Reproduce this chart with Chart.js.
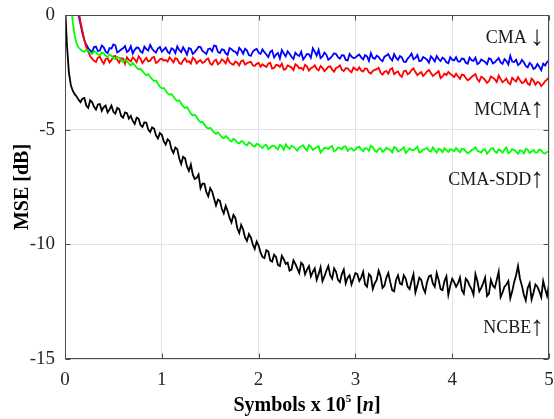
<!DOCTYPE html>
<html>
<head>
<meta charset="utf-8">
<script src="https://cdn.jsdelivr.net/npm/chart.js@4.4.1/dist/chart.umd.min.js"></script>
<style>
  html, body { margin: 0; padding: 0; background: #fff; }
</style>
</head>
<body>
<canvas id="mseChart" width="554" height="419"></canvas>
<script>
// symbol axis (x 10^5): "even" samples at 0, 0.04, ... 5.00 and "odd" samples at 0.02, 0.06, ... 4.98
const symbols = Array.from({ length: 251 }, (_, i) => +(i * 0.02).toFixed(2));

const xTicks = [0, 1, 2, 3, 4, 5];
const yTicks = [0, -5, -10, -15];

// MSE in dB
const cmaEven = [
  4, 3, 1.8, 0.5, -0.4, -1.1, -1.45,
  -1.62, -1.38, -1.55, -1.41, -1.66, -1.47, -1.32, -1.58, -1.45, -1.61, -1.36, -1.52, -1.43, -1.65, -1.49, -1.30, -1.57, -1.46, -1.60,
  -1.42, -1.68, -1.50, -1.37, -1.62, -1.55, -1.44, -1.70, -1.51, -1.40, -1.63, -1.48, -1.58, -1.35, -1.66, -1.52, -1.74, -1.49, -1.60, -1.43, -1.69, -1.55, -1.78, -1.52, -1.64,
  -1.50, -1.72, -1.61, -1.85, -1.66, -1.53, -1.80, -1.69, -1.92, -1.74, -1.60, -1.83, -1.71, -1.45, -1.77, -1.88, -1.64, -1.95, -1.79, -1.70, -1.90, -1.76, -1.98, -1.81, -1.86,
  -1.72, -1.94, -1.80, -1.66, -1.91, -1.83, -2.02, -1.77, -1.89, -1.70, -1.96, -1.85, -2.05, -1.81, -1.93, -1.74, -1.99, -1.88, -2.08, -1.90, -1.79, -2.01, -1.92, -2.10, -1.95,
  -1.84, -2.03, -1.91, -2.12, -1.97, -1.86, -2.09, -1.99, -2.15, -1.93, -2.06, -1.88, -2.13, -2.01, -1.78, -2.05, -2.18, -1.96, -2.22, -2.09, -2.35, -2.14, -2.41, -2.20, -1.98
];
const cmaOdd = [
  3.5, 2.4, 1.1, 0.0, -0.8, -1.3, -1.55,
  -1.40, -1.57, -1.33, -1.60, -1.44, -1.28, -1.63, -1.50, -1.35, -1.54, -1.68, -1.42, -1.59, -1.38, -1.55, -1.47, -1.64, -1.39, -1.51,
  -1.60, -1.45, -1.66, -1.53, -1.41, -1.72, -1.48, -1.62, -1.38, -1.57, -1.70, -1.46, -1.33, -1.61, -1.50, -1.67, -1.44, -1.58, -1.72, -1.53, -1.47, -1.75, -1.60, -1.48, -1.70,
  -1.62, -1.84, -1.55, -1.73, -1.90, -1.68, -1.58, -1.82, -1.65, -1.79, -1.94, -1.70, -1.86, -1.60, -1.52, -1.81, -1.73, -1.89, -1.67, -1.84, -1.75, -1.96, -1.70, -1.88, -1.78,
  -1.85, -1.75, -2.00, -1.87, -1.78, -1.95, -1.82, -1.71, -1.98, -1.86, -1.79, -2.04, -1.90, -1.68, -1.87, -2.01, -1.83, -1.95, -1.80, -2.03, -1.92, -1.86, -2.06, -1.84, -1.98,
  -2.02, -1.90, -2.08, -1.85, -2.00, -2.14, -1.94, -2.05, -1.89, -2.11, -1.97, -2.07, -1.92, -2.16, -2.03, -1.95, -2.12, -2.06, -2.28, -2.17, -2.30, -2.26, -2.12, -2.05
];
const mcmaEven = [
  4, 3.5, 2.2, 0.8, -0.3, -1.1, -1.6, -1.9,
  -2.05, -1.82, -2.12, -1.88, -1.97, -1.78, -2.08, -1.90, -1.84, -2.02, -1.93, -1.80, -2.10, -1.87, -1.99, -1.83, -2.04, -1.91,
  -1.96, -1.85, -2.07, -1.92, -2.14, -1.89, -2.01, -1.86, -2.11, -1.97, -2.05, -1.90, -2.17, -1.95, -2.08, -2.00, -1.88, -2.13, -2.03, -2.20, -1.98, -2.10, -2.04, -2.22, -2.09,
  -2.15, -2.27, -2.08, -2.31, -2.19, -2.12, -2.36, -2.24, -2.40, -2.21, -2.30, -2.17, -2.42, -2.28, -2.35, -2.22, -2.45, -2.26, -2.38, -2.31, -2.20, -2.44, -2.33, -2.50, -2.36,
  -2.28, -2.47, -2.35, -2.55, -2.39, -2.30, -2.60, -2.44, -2.37, -2.58, -2.46, -2.70, -2.42, -2.53, -2.33, -2.62, -2.49, -2.57, -2.40, -2.66, -2.52, -2.75, -2.55, -2.48, -2.63,
  -2.56, -2.78, -2.62, -2.85, -2.70, -2.58, -2.90, -2.74, -2.96, -2.68, -2.81, -2.64, -2.93, -2.77, -3.02, -2.83, -2.71, -2.97, -2.80, -3.05, -2.86, -2.92, -3.10, -2.88, -2.70
];
const mcmaOdd = [
  4, 2.9, 1.5, 0.2, -0.7, -1.4, -1.8, -2.0,
  -1.86, -2.00, -1.92, -2.07, -1.81, -1.95, -1.89, -2.13, -1.96, -1.85, -2.06, -1.90, -1.97, -2.02, -1.86, -2.09, -1.93, -1.99,
  -2.03, -1.94, -1.88, -2.10, -1.99, -2.04, -2.12, -1.93, -2.02, -2.09, -1.94, -2.12, -2.01, -2.15, -1.93, -2.11, -2.06, -2.17, -2.08, -2.01, -2.16, -2.07, -2.19, -2.13, -2.25,
  -2.21, -2.12, -2.34, -2.18, -2.26, -2.38, -2.20, -2.29, -2.15, -2.33, -2.39, -2.25, -2.32, -2.19, -2.41, -2.30, -2.36, -2.24, -2.47, -2.27, -2.39, -2.32, -2.43, -2.29, -2.40,
  -2.42, -2.33, -2.50, -2.44, -2.36, -2.52, -2.47, -2.56, -2.32, -2.51, -2.62, -2.45, -2.58, -2.40, -2.49, -2.55, -2.66, -2.46, -2.53, -2.59, -2.45, -2.68, -2.62, -2.57, -2.71,
  -2.68, -2.60, -2.75, -2.79, -2.64, -2.80, -2.69, -2.84, -2.88, -2.73, -2.92, -2.79, -2.86, -2.95, -2.74, -2.90, -2.84, -2.93, -2.99, -2.78, -3.04, -2.95, -3.01, -2.82
];
const sddEven = [
  4, 1.5, -0.3, -1.25, -1.5, -1.6, -1.55, -1.7, -1.62, -1.75,
  -1.68, -1.82, -1.77, -1.92, -1.86, -2.05, -2.0, -2.2, -2.18, -2.38,
  -2.45, -2.62, -2.70, -2.88, -3.0, -3.2, -3.3, -3.48, -3.55, -3.75,
  -3.85, -4.05, -4.15, -4.38, -4.45, -4.68, -4.78, -4.95, -5.02, -5.18,
  -5.22, -5.38, -5.35, -5.52, -5.46, -5.6, -5.52, -5.68, -5.6, -5.74, -5.65,
  -5.80, -5.66, -5.78, -5.70, -5.86, -5.72, -5.64, -5.84, -5.75, -5.92, -5.73, -5.82, -5.68, -5.88, -5.77, -6.00, -5.79, -5.85, -5.71, -5.90, -5.80, -5.74, -5.93, -5.81, -5.87,
  -5.75, -5.94, -5.83, -5.70, -5.91, -5.84, -5.97, -5.79, -5.88, -5.76, -5.95, -5.86, -6.02, -5.82, -5.90, -5.74, -5.96, -5.85, -5.92, -5.78, -6.00, -5.87, -5.81, -5.97, -5.89,
  -5.80, -5.98, -5.85, -6.03, -5.90, -5.77, -5.96, -5.88, -6.05, -5.83, -5.94, -5.86, -6.01, -5.78, -5.97, -5.89, -6.06, -5.92, -5.84, -6.02, -5.88, -5.99, -5.91, -6.04, -5.93
];
const sddOdd = [
  4, 0.5, -0.9, -1.42, -1.58, -1.52, -1.66, -1.58, -1.72, -1.64,
  -1.78, -1.72, -1.88, -1.83, -1.98, -1.95, -2.12, -2.10, -2.30, -2.35,
  -2.55, -2.58, -2.80, -2.86, -3.12, -3.18, -3.42, -3.45, -3.68, -3.72,
  -3.98, -4.02, -4.30, -4.35, -4.60, -4.66, -4.90, -4.92, -5.12, -5.12,
  -5.32, -5.28, -5.46, -5.40, -5.56, -5.50, -5.64, -5.56, -5.70, -5.62,
  -5.74, -5.69, -5.85, -5.71, -5.79, -5.66, -5.88, -5.76, -5.70, -5.83, -5.78, -5.68, -5.91, -5.74, -5.82, -5.72, -5.89, -5.80, -5.75, -5.94, -5.78, -5.86, -5.73, -5.84, -5.91, -5.77,
  -5.86, -5.80, -5.92, -5.76, -5.97, -5.81, -5.90, -5.85, -5.99, -5.80, -5.91, -5.77, -5.93, -5.88, -5.83, -6.00, -5.86, -5.79, -5.95, -5.89, -5.84, -5.98, -5.90, -5.85, -5.94,
  -5.89, -5.83, -5.95, -5.98, -5.84, -5.92, -6.00, -5.86, -5.94, -5.80, -6.01, -5.91, -5.87, -6.03, -5.85, -5.96, -5.90, -6.04, -5.87, -5.95, -6.00, -5.86, -6.02, -5.97
];
const ncbeEven = [
  0.5, -2.5, -3.3, -3.55,
  -3.80, -3.62, -4.05, -3.80, -4.12, -3.88, -4.02, -4.25, -3.95, -4.30,
  -4.10, -4.48, -4.28, -4.40, -4.75, -4.52, -4.88, -4.70, -5.10, -4.95,
  -5.38, -5.22, -5.65, -5.50, -6.02, -5.85, -6.50, -6.25, -6.80, -6.95,
  -7.10, -7.55, -7.35, -7.90, -7.70, -8.30, -8.10, -8.65, -8.55, -9.05,
  -8.85, -9.50, -9.35, -9.85, -9.70, -10.20, -10.05,
  -10.55, -10.25, -10.70, -10.45, -10.90, -10.50, -10.85, -11.15, -10.70, -11.05, -10.80, -11.30, -10.95, -11.20, -11.55, -11.00, -11.40, -10.95, -11.50, -11.20, -11.65, -11.10, -11.45, -11.75, -11.25,
  -11.60, -11.20, -11.85, -11.40, -11.70, -11.15, -11.90, -11.45, -11.65, -12.05, -11.35, -11.75, -11.50, -11.95, -11.30, -11.80, -11.55, -12.10, -11.40, -11.70, -11.25, -11.95, -11.60, -12.20, -11.50,
  -11.85, -11.45, -12.15, -11.60, -11.95, -11.30, -12.05, -11.70, -12.25, -11.55, -11.90, -11.20, -12.10, -11.75, -12.35, -11.65, -10.95, -11.80, -12.45, -11.70, -12.10, -11.85, -12.30, -11.95, -11.75
];
const ncbeOdd = [
  -1.3, -3.05, -3.45, -3.70,
  -3.65, -3.95, -3.72, -4.00, -3.90, -4.18, -3.95, -4.12, -4.22, -4.05,
  -4.40, -4.25, -4.52, -4.62, -4.48, -4.80, -4.68, -5.00, -4.90, -5.25,
  -5.15, -5.50, -5.42, -5.85, -5.78, -6.25, -6.18, -6.60, -6.52, -7.15,
  -6.95, -7.35, -7.72, -7.55, -8.00, -8.05, -8.45, -8.32, -8.85, -8.72,
  -9.30, -9.15, -9.70, -9.55, -10.00, -9.88,
  -10.35, -10.60, -10.30, -10.75, -10.55, -10.95, -10.65, -10.80, -11.10, -10.85, -11.25, -10.90, -11.10, -11.40, -11.05, -11.30, -11.60, -11.15, -11.35, -11.05, -11.55, -11.30, -11.70, -11.35, -11.50, -11.30,
  -11.45, -11.75, -11.30, -11.95, -11.55, -11.40, -11.80, -11.25, -12.00, -11.55, -11.70, -11.35, -11.85, -11.60, -12.10, -11.45, -11.90, -11.65, -11.35, -11.85, -11.55, -12.00, -11.40, -11.80, -11.65,
  -11.70, -12.00, -11.50, -11.80, -12.20, -11.60, -11.90, -11.45, -12.15, -11.80, -11.55, -12.30, -11.85, -11.60, -12.05, -11.35, -11.50, -12.20, -11.90, -12.40, -11.75, -12.05, -11.60, -12.25
];

// curve labels, right-aligned, in data units
const curveLabels = [
  { text: 'CMA ', arrow: '\u2193', x: 4.95, y: -1.22 },
  { text: 'MCMA', arrow: '\u2191', x: 4.95, y: -4.36 },
  { text: 'CMA-SDD', arrow: '\u2191', x: 4.95, y: -7.41 },
  { text: 'NCBE', arrow: '\u2191', x: 4.95, y: -13.87 }
];

const serif = '"Liberation Serif", "Times New Roman", serif';

// put the even and odd samples back in symbol order
function toPoints(even, odd) {
  const pts = [];
  even.forEach((v, k) => {
    pts.push({ x: symbols[2 * k], y: v });
    if (k < odd.length) pts.push({ x: symbols[2 * k + 1], y: odd[k] });
  });
  return pts;
}

const matlabFrame = {
  id: 'matlabFrame',
  afterDatasetsDraw(chart) {
    const { ctx, chartArea: a, scales } = chart;
    const left = Math.round(a.left) + 0.5, right = Math.round(a.right) - 0.5;
    const top = Math.round(a.top) + 0.5, bottom = Math.round(a.bottom) - 0.5;
    ctx.save();
    ctx.strokeStyle = '#4d4d4d';
    ctx.lineWidth = 1;
    ctx.beginPath();
    xTicks.forEach(v => {
      const px = Math.round(scales.x.getPixelForValue(v)) + 0.5;
      ctx.moveTo(px, bottom); ctx.lineTo(px, bottom - 5);
      ctx.moveTo(px, top); ctx.lineTo(px, top + 5);
    });
    yTicks.forEach(v => {
      const py = Math.round(scales.y.getPixelForValue(v)) + 0.5;
      ctx.moveTo(left, py); ctx.lineTo(left + 5, py);
      ctx.moveTo(right, py); ctx.lineTo(right - 5, py);
    });
    ctx.stroke();
    ctx.strokeRect(left, top, right - left, bottom - top);

    ctx.fillStyle = '#1a1a1a';
    ctx.textAlign = 'right';
    ctx.textBaseline = 'alphabetic';
    curveLabels.forEach(l => {
      const px = scales.x.getPixelForValue(l.x);
      const py = scales.y.getPixelForValue(l.y);
      ctx.font = '28px ' + serif;
      const aw = ctx.measureText(l.arrow).width;
      ctx.fillText(l.arrow, px, py + 2);
      ctx.font = '18px ' + serif;
      ctx.fillText(l.text, px - aw + 1, py);
    });
    ctx.restore();
  },
  afterDraw(chart) {
    const { ctx, chartArea: a } = chart;
    ctx.save();
    ctx.fillStyle = '#000';
    ctx.textBaseline = 'alphabetic';
    ctx.textAlign = 'left';

    // x title: Symbols x 10^5 [n]
    const bold = 'bold 20px ' + serif;
    const sup = 'bold 11px ' + serif;
    const ital = 'italic bold 20px ' + serif;
    const parts = [
      { t: 'Symbols x 10', f: bold, dy: 0 },
      { t: '5', f: sup, dy: -9 },
      { t: ' [', f: bold, dy: 0 },
      { t: 'n', f: ital, dy: 0 },
      { t: ']', f: bold, dy: 0 }
    ];
    let total = 0;
    parts.forEach(p => { ctx.font = p.f; p.w = ctx.measureText(p.t).width; total += p.w; });
    let x = (a.left + a.right) / 2 - total / 2;
    const base = 411;
    parts.forEach(p => { ctx.font = p.f; ctx.fillText(p.t, x, base + p.dy); x += p.w; });

    // y title
    ctx.translate(28, (a.top + a.bottom) / 2);
    ctx.rotate(-Math.PI / 2);
    ctx.font = bold;
    ctx.textAlign = 'center';
    ctx.fillText('MSE [dB]', 0, 0);
    ctx.restore();
  }
};

const series = [
  { label: 'NCBE', even: ncbeEven, odd: ncbeOdd, color: '#000000' },
  { label: 'CMA-SDD', even: sddEven, odd: sddOdd, color: '#00ff00' },
  { label: 'MCMA', even: mcmaEven, odd: mcmaOdd, color: '#ff0000' },
  { label: 'CMA', even: cmaEven, odd: cmaOdd, color: '#0000ff' }
];

new Chart(document.getElementById('mseChart'), {
  type: 'line',
  data: {
    datasets: series.map(s => ({
      label: s.label,
      data: toPoints(s.even, s.odd),
      borderColor: s.color,
      backgroundColor: s.color,
      borderWidth: 1.8,
      pointRadius: 0,
      tension: 0
    }))
  },
  options: {
    responsive: false,
    animation: false,
    events: [],
    layout: { padding: { top: 15, right: 5, left: 0, bottom: 0 } },
    plugins: { legend: { display: false }, tooltip: { enabled: false } },
    scales: {
      x: {
        type: 'linear',
        min: 0,
        max: 5,
        afterFit(scale) {
          scale.height = 60;
          scale.paddingLeft = 0;
          scale.paddingRight = 0;
        },
        afterBuildTicks(scale) { scale.ticks = xTicks.map(v => ({ value: v })); },
        grid: { color: '#e3e3e3', drawTicks: false },
        border: { display: false },
        ticks: { color: '#262626', font: { family: serif, size: 19 }, padding: 10, maxRotation: 0 }
      },
      y: {
        min: -15,
        max: 0,
        afterFit(scale) {
          scale.width = 65;
          scale.paddingTop = 0;
          scale.paddingBottom = 0;
        },
        afterBuildTicks(scale) { scale.ticks = yTicks.map(v => ({ value: v })); },
        grid: { color: '#e3e3e3', drawTicks: false },
        border: { display: false },
        ticks: { color: '#262626', font: { family: serif, size: 19 }, padding: 10 }
      }
    }
  },
  plugins: [matlabFrame]
});
</script>
</body>
</html>
